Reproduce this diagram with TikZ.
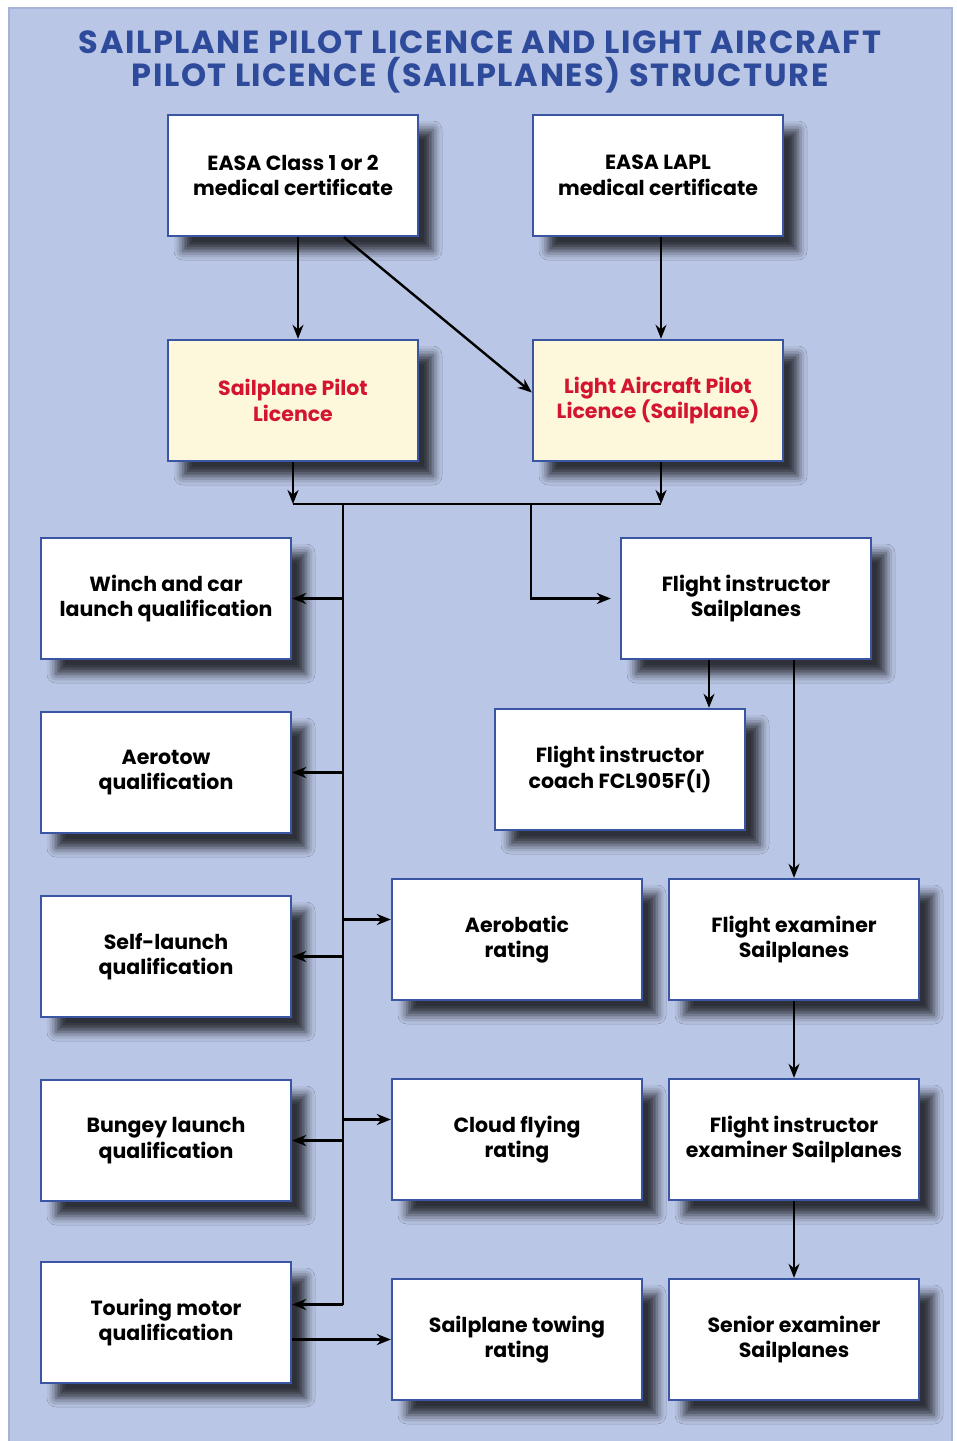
\documentclass[tikz,border=0pt]{standalone}
\usepackage{fontspec}
\setmainfont{Poppins}
\usepackage{xcolor}
\definecolor{panelBlue}{HTML}{BAC6E5}
\definecolor{panelEdge}{HTML}{A7B2DA}
\definecolor{titleBlue}{HTML}{2E4A9A}
\definecolor{boxEdge}{HTML}{3A56A2}
\definecolor{licCream}{HTML}{FDF8DC}
\definecolor{licRed}{HTML}{D4152F}
\usetikzlibrary{arrows.meta, positioning, calc, shadows.blur}

\begin{document}
\begin{tikzpicture}[
		x=1pt, y=-1pt,
		>=Stealth,
		box/.style={draw=boxEdge, line width=2.4pt, fill=white,
			minimum width=250pt, minimum height=121pt, align=center,
			font=\fontsize{20.5}{25.5}\selectfont\bfseries,
			blur shadow={shadow xshift=15pt, shadow yshift=-15pt,
				shadow blur radius=9pt, shadow opacity=75}},
		licbox/.style={box, fill=licCream, text=licRed},
		link/.style={line width=2.4pt, -{Stealth[length=14pt, width=11pt]}},
		wire/.style={line width=2.4pt}
	]
	\useasboundingbox (0,0) rectangle (957,1441);
	\draw[fill=panelBlue, draw=panelEdge, line width=2pt] (9,8) rectangle (952,1445);

	\node[text=titleBlue, align=center,
		font=\fontsize{32}{33}\selectfont\bfseries\addfontfeatures{LetterSpace=5}]
		(title) at (480,62) {SAILPLANE PILOT LICENCE AND LIGHT AIRCRAFT\\
		PILOT LICENCE (SAILPLANES) STRUCTURE};

	% medical certificates and licences
	\node[box] (med12) at (293,175.5) {EASA Class 1 or 2\\medical certificate};
	\node[box] (medlapl) at (658,175.5) {EASA LAPL\\medical certificate};
	\node[licbox] (spl) at (293,400.5) {Sailplane Pilot\\Licence};
	\node[licbox] (lapls) at (658,400.5) {Light Aircraft Pilot\\Licence (Sailplane)};

	% qualifications on the left
	\node[box] (winch) at (166,598.5) {Winch and car\\launch qualification};
	\node[box] (aerotow) at (166,772.5) {Aerotow\\qualification};
	\node[box] (selfl) at (166,956.5) {Self-launch\\qualification};
	\node[box] (bungey) at (166,1140.5) {Bungey launch\\qualification};
	\node[box] (touring) at (166,1322.5) {Touring motor\\qualification};

	% ratings
	\node[box] (aerobatic) at (517,939.5) {Aerobatic\\rating};
	\node[box] (cloud) at (517,1139.5) {Cloud flying\\rating};
	\node[box] (towing) at (517,1339.5) {Sailplane towing\\rating};

	% instructors and examiners
	\node[box] (fi) at (746,598.5) {Flight instructor\\Sailplanes};
	\node[box] (ficoach) at (620,769.5) {Flight instructor\\coach FCL905F(I)};
	\node[box] (fe) at (794,939.5) {Flight examiner\\Sailplanes};
	\node[box] (fie) at (794,1139.5) {Flight instructor\\examiner Sailplanes};
	\node[box] (senior) at (794,1339.5) {Senior examiner\\Sailplanes};

	\coordinate (bus) at (343,504);
	\coordinate (fork) at (531,504);
	\coordinate (touringIn) at ([yshift=18pt]touring.east);
	\coordinate (aeroIn) at ([yshift=20pt]aerobatic.west);
	\coordinate (cloudIn) at ([yshift=20pt]cloud.west);

	\draw[link] ([xshift=5pt]med12.south) -- ([xshift=5pt]spl.north);
	\draw[link] ([xshift=51pt]med12.south) -- ([yshift=8pt]lapls.west);
	\draw[link] ([xshift=3pt]medlapl.south) -- ([xshift=3pt]lapls.north);

	\draw[link] (spl.south) -- (spl.south |- bus);
	\draw[link] ([xshift=3pt]lapls.south) -- ([xshift=3pt]lapls.south |- bus);
	\draw[wire] (spl.south |- bus) -- ([xshift=3pt]lapls.south |- bus);

	% trunk and branches
	\draw[wire] (bus) -- (bus |- touringIn);
	\draw[link] (bus |- touringIn) -- (touringIn);
	\foreach \q in {winch, aerotow, selfl, bungey}
		\draw[link] (bus |- \q.east) -- (\q.east);
	\foreach \r in {aeroIn, cloudIn}
		\draw[link] (bus |- \r) -- (\r);
	\draw[link] (touring.east |- towing.west) -- (towing.west);

	\draw[link, shorten >=9pt] (fork) |- (fi.west);
	\draw[link] ([xshift=-37pt]fi.south) -- ([xshift=-37pt]fi.south |- ficoach.north);
	\draw[link] (fi.south -| fe.north) -- (fe.north);
	\draw[link] (fe.south) -- (fie.north);
	\draw[link] (fie.south) -- (senior.north);
\end{tikzpicture}
\end{document}
